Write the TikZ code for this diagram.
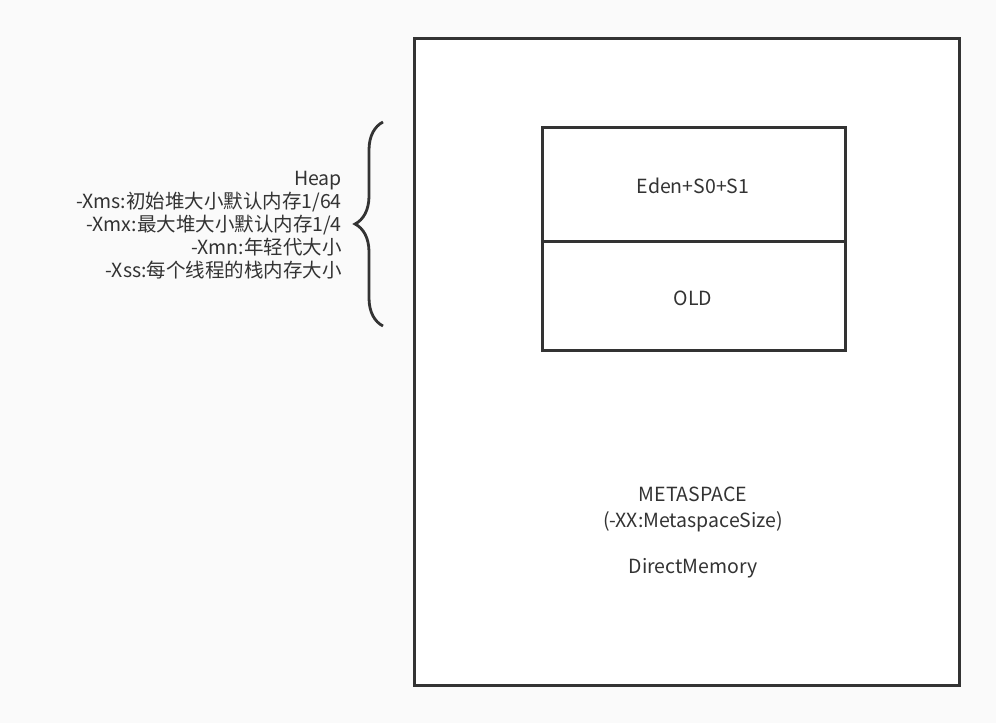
\documentclass[tikz,border=0pt]{standalone}
\usepackage{fontspec}
\setmainfont{Noto Sans CJK SC}
\usetikzlibrary{decorations.pathreplacing}

\definecolor{inkgray}{HTML}{333333}
\definecolor{paper}{HTML}{FAFAFA}

\tikzset{
  box/.style={draw=inkgray,line width=3pt,fill=white},
  label/.style={text=inkgray,font=\fontsize{19.5}{23}\selectfont,inner sep=0pt}
}

\begin{document}
\begin{tikzpicture}[x=1pt,y=-1pt]
  % page
  \fill[paper] (0,0) rectangle (996,723);
  \useasboundingbox (0,0) rectangle (996,723);

  % outer memory box
  \draw[box] (414,38) rectangle (959,685);
  \node[label,align=center] (meta) at (693,509) {METASPACE\\[3pt](-XX:MetaspaceSize)};
  \node[label] (direct) at (693,568) {DirectMemory};

  % heap box
  \draw[box] (542,127) rectangle (845,350);
  \draw[draw=inkgray,line width=3pt] (542,241) -- (845,241);
  \node[label] (eden) at (693,186) {Eden+S0+S1};
  \node[label] (old) at (693,298) {OLD};

  % brace and heap options
  \coordinate (bracebot) at (383,326);
  \coordinate (bracetop) at (383,122);
  \draw[inkgray,line width=2.8pt,decorate,decoration={brace,amplitude=28pt}]
    (bracebot) -- (bracetop);
  \node[label,align=right,anchor=east] (heap) at (342,225)
    {Heap\\-Xms:初始堆大小默认内存1/64\\-Xmx:最大堆大小默认内存1/4\\-Xmn:年轻代大小\\-Xss:每个线程的栈内存大小};
\end{tikzpicture}
\end{document}
